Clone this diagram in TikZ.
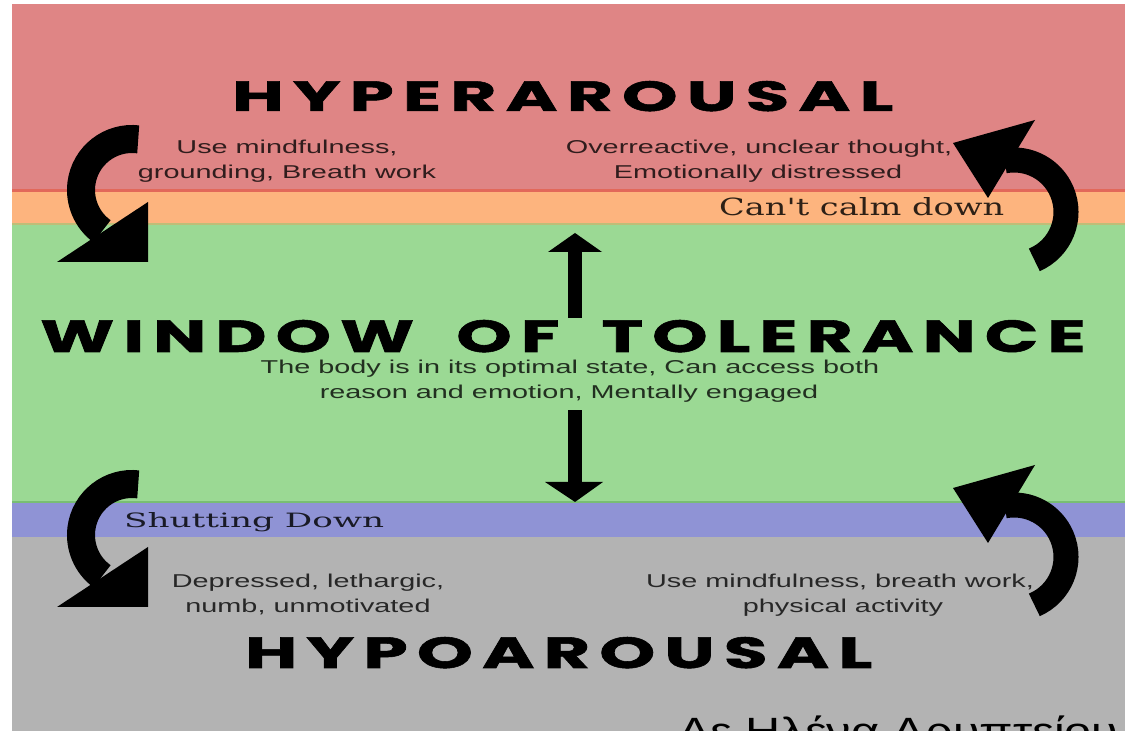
\documentclass[tikz,border=0pt]{standalone}
\usepackage{fontspec}
\usepackage{graphicx}
\newfontfamily\bodyfont{Liberation Sans}[FakeStretch=1.55]
\newfontfamily\titlefont{Poppins}[BoldFeatures={FakeBold=1.2}]
\newfontfamily\slabfont{DejaVu Serif}
\newfontfamily\capfont{Liberation Sans}[FakeStretch=1.28]
\definecolor{hyper}{RGB}{223,133,133}
\definecolor{hyperline}{RGB}{226,104,90}
\definecolor{orangeband}{RGB}{253,180,126}
\definecolor{orangeline}{RGB}{190,190,120}
\definecolor{greenband}{RGB}{155,217,148}
\definecolor{greenline}{RGB}{120,190,115}
\definecolor{blueband}{RGB}{143,147,213}
\definecolor{greyband}{RGB}{179,179,179}
\newcommand\lk{\kern0.13em}
\newcommand\wk{\kern0.6em}
\begin{document}
\begin{tikzpicture}[x=1pt,y=1pt,
  body/.style={inner sep=0pt, anchor=base, font=\bodyfont\fontsize{18.6}{22}\selectfont, text=black, text opacity=0.78},
  titletext/.style={inner sep=0pt, anchor=base west, text=black},
  bandlabel/.style={inner sep=0pt, anchor=base west, text=black, text opacity=0.82}
]
\useasboundingbox (0,0) rectangle (1128,731);
\fill[white] (0,0) rectangle (1128,731);
% bands
\fill[greyband] (12,0) rectangle (1125,194);
\fill[blueband] (12,194) rectangle (1125,228);
\fill[greenline] (12,228) rectangle (1125,230);
\fill[greenband] (12,230) rectangle (1125,506);
\fill[orangeline] (12,506) rectangle (1125,508);
\fill[orangeband] (12,508) rectangle (1125,539);
\fill[hyperline] (12,539) rectangle (1125,541.5);
\fill[hyper] (12,541.5) rectangle (1125,727);
% titles
\node[titletext] (hyper) at (232,620) {\resizebox{661pt}{30pt}{\titlefont\bfseries H\lk Y\lk P\lk E\lk R\lk A\lk R\lk O\lk U\lk S\lk A\lk L}};
\node[titletext] (window) at (40,379) {\resizebox{1045pt}{32pt}{\titlefont\bfseries W\lk I\lk N\lk D\lk O\lk W\wk O\lk F\wk T\lk O\lk L\lk E\lk R\lk A\lk N\lk C\lk E}};
\node[titletext] (hypo) at (245,63) {\resizebox{627pt}{31pt}{\titlefont\bfseries H\lk Y\lk P\lk O\lk A\lk R\lk O\lk U\lk S\lk A\lk L}};
% body texts
\node[body] (l1a) at (287,577) {Use mindfulness,};
\node[body] (l1b) at (287,552) {grounding, Breath work};
\node[body] (r1a) at (759,577) {Overreactive, unclear thought,};
\node[body] (r1b) at (758,552) {Emotionally distressed};
\node[body] (m1) at (570,357) {The body is in its optimal state, Can access both};
\node[body] (m2) at (569,332) {reason and emotion, Mentally engaged};
\node[body] (l2a) at (308,143) {Depressed, lethargic,};
\node[body] (l2b) at (308,118) {numb, unmotivated};
\node[body] (r2a) at (840,143) {Use mindfulness, breath work,};
\node[body] (r2b) at (843,118) {physical activity};
% band labels
\node[bandlabel] (calm) at (719,515) {\resizebox{285pt}{18pt}{\slabfont Can't calm down}};
\node[bandlabel] (shut) at (124,203) {\resizebox{260pt}{15pt}{\slabfont Shutting Down}};
% straight arrows
\fill (568,413) rectangle (582,479);
\fill (548,479) -- (602,479) -- (575,498) -- cycle;
\fill (568,249) rectangle (582,321);
\fill (545,249) -- (603,249) -- (575,229) -- cycle;
% curved arrows
\foreach \dy in {0,-345} {
  \begin{scope}[yshift=\dy]
    \draw[line width=28pt] (132,541) ++(83:51) arc[start angle=83, end angle=234, radius=51];
    \fill (148,529) -- (148,469) -- (57,469) -- cycle;
    \draw[line width=25pt] (1014,519) ++(-67:52) arc[start angle=-67, end angle=100, radius=52];
    \fill (1035,611) -- (953,588) -- (988,533) -- cycle;
  \end{scope}
}
% cut caption
\begin{scope}
  \clip (12,0) rectangle (1125,731);
  \node[inner sep=0pt, anchor=base west, font=\capfont\fontsize{38}{42}\selectfont] (caption) at (678,-14) {Αε Ηλένα Αρυπτείου};
\end{scope}
\end{tikzpicture}
\end{document}
